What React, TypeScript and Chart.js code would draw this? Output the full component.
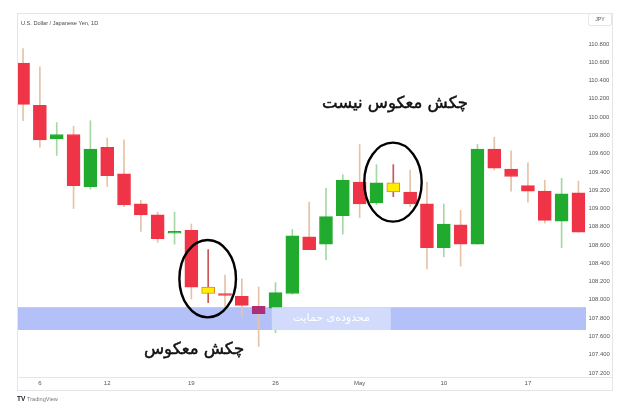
import React, { useEffect, useRef } from "react";
import { Chart, registerables } from "chart.js";

Chart.register(...registerables);

// ---- data ----
const OPEN = [110.59, 110.13, 109.76, 109.81, 109.24, 109.67, 109.38, 109.05, 108.93, 108.73, 108.76, 108.14, 108.07, 108.04, 107.93, 107.91, 108.07, 108.69, 108.61, 108.92, 109.29, 109.06, 109.28, 109.18, 109.05, 108.57, 108.82, 108.61, 109.65, 109.43, 109.25, 109.19, 108.86, 109.17];
const HIGH = [110.75, 110.55, 109.94, 109.9, 109.96, 109.77, 109.75, 109.09, 108.96, 108.96, 108.83, 108.55, 108.27, 108.23, 108.14, 108.19, 108.77, 109.07, 109.22, 109.37, 109.7, 109.48, 109.48, 109.42, 109.29, 109.05, 108.98, 109.7, 109.78, 109.63, 109.5, 109.31, 109.33, 109.3];
const LOW = [109.96, 109.67, 109.58, 109.0, 109.21, 109.24, 109.02, 108.75, 108.63, 108.61, 108.01, 107.97, 107.93, 107.81, 107.49, 107.64, 108.06, 108.55, 108.44, 108.72, 108.9, 109.04, 109.13, 109.02, 108.34, 108.47, 108.37, 108.61, 109.42, 109.19, 109.07, 108.84, 108.57, 108.74];
const CLOSE = [110.14, 109.75, 109.81, 109.25, 109.65, 109.36, 109.04, 108.93, 108.67, 108.75, 108.14, 108.07, 108.05, 107.94, 107.85, 108.08, 108.7, 108.55, 108.91, 109.31, 109.05, 109.28, 109.18, 109.05, 108.57, 108.83, 108.61, 109.65, 109.44, 109.35, 109.19, 108.87, 109.16, 108.74];

const X_TICK_INDEX = [1, 5, 10, 15, 20, 25, 30];
const X_TICK_LABELS = ["6", "12", "19", "26", "May", "10", "17"];
const Y_TICKS = [107.2, 107.4, 107.6, 107.8, 108.0, 108.2, 108.4, 108.6, 108.8, 109.0, 109.2, 109.4, 109.6, 109.8, 110.0, 110.2, 110.4, 110.6, 110.8];

const SUPPORT_ZONE = [107.67, 107.92];
const SUPPORT_LABEL_RANGE = [14.78, 21.85];
const SUPPORT_LABEL = "محدوده‌ی حمایت";
const TITLE = "U.S. Dollar / Japanese Yen, 1D";
const CURRENCY = "JPY";

const HAMMER_INDEX = [11, 22];
const HIGHLIGHT_PURPLE = [14];

const ELLIPSES = [
  { x: 10.97, y: 108.232 },
  { x: 21.98, y: 109.288 },
];
const NOTES = [
  { x: 22.1, y: 110.143, text: "چکش معکوس نیست" },
  { x: 10.16, y: 107.452, text: "چکش معکوس" },
];

// ---- styles ----
const RED = "#ef3447";
const GREEN = "#21ab2e";
const RED_WICK = "#e6c2a6";
const GREEN_WICK = "#a6d8a6";
const YELLOW = "#ffee00";
const YELLOW_BORDER = "#e08a1e";
const HAMMER_WICK = "#c8565a";
const PURPLE = "#ad2f78";
const FRAME = "#e3e5ea";

export default function App() {
  const ref = useRef<HTMLCanvasElement | null>(null);

  useEffect(() => {
    const canvas = ref.current;
    if (!canvas) return;
    const n = OPEN.length;
    const idx = Array.from({ length: n }, (_, i) => i);
    const up = idx.map((i) => CLOSE[i] >= OPEN[i]);

    const bodyColor = idx.map((i) =>
      HAMMER_INDEX.includes(i) ? YELLOW : HIGHLIGHT_PURPLE.includes(i) ? PURPLE : up[i] ? GREEN : RED
    );
    const bodyBorder = idx.map((i) => (HAMMER_INDEX.includes(i) ? YELLOW_BORDER : bodyColor[i]));
    const wickColor = idx.map((i) =>
      HAMMER_INDEX.includes(i) ? HAMMER_WICK : up[i] ? GREEN_WICK : RED_WICK
    );

    const overlay = {
      id: "overlay",
      beforeDatasetsDraw(chart: any) {
        const { ctx, chartArea, scales } = chart;
        const y = scales.y;
        ctx.save();
        const y1 = y.getPixelForValue(SUPPORT_ZONE[1]);
        const y0 = y.getPixelForValue(SUPPORT_ZONE[0]);
        ctx.fillStyle = "#b4c0f8";
        ctx.fillRect(chartArea.left, y1, chartArea.right - chartArea.left, y0 - y1);
        ctx.restore();
      },
      afterDatasetsDraw(chart: any) {
        const { ctx, scales } = chart;
        const x = scales.x;
        const y = scales.y;
        ctx.save();
        // support label box
        const y1 = y.getPixelForValue(SUPPORT_ZONE[1]);
        const y0 = y.getPixelForValue(SUPPORT_ZONE[0]);
        const lx0 = x.getPixelForValue(SUPPORT_LABEL_RANGE[0]);
        const lx1 = x.getPixelForValue(SUPPORT_LABEL_RANGE[1]);
        ctx.fillStyle = "rgba(214,222,252,0.88)";
        ctx.fillRect(lx0, y1, lx1 - lx0, y0 - y1);
        ctx.fillStyle = "#ffffff";
        ctx.font = '11px "DejaVu Sans"';
        ctx.textAlign = "center";
        ctx.textBaseline = "middle";
        ctx.direction = "rtl";
        ctx.fillText(SUPPORT_LABEL, (lx0 + lx1) / 2, (y0 + y1) / 2);

        // ellipses
        ctx.strokeStyle = "#000000";
        ctx.lineWidth = 2.4;
        const radii = [
          [28.3, 38.7],
          [28.7, 39.5],
        ];
        ELLIPSES.forEach((e, k) => {
          ctx.beginPath();
          ctx.ellipse(x.getPixelForValue(e.x), y.getPixelForValue(e.y), radii[k][0], radii[k][1], 0, 0, Math.PI * 2);
          ctx.stroke();
        });

        // notes
        ctx.fillStyle = "#111111";
        ctx.strokeStyle = "#111111";
        ctx.lineWidth = 0.5;
        ctx.lineJoin = "round";
        ctx.font = '16.5px "DejaVu Sans"';
        NOTES.forEach((t) => {
          const px = x.getPixelForValue(t.x);
          const py = y.getPixelForValue(t.y);
          ctx.fillText(t.text, px, py);
          ctx.strokeText(t.text, px, py);
        });
        ctx.restore();
      },
      afterDraw(chart: any) {
        const { ctx, chartArea } = chart;
        ctx.save();
        const L = chartArea.left + 0.5;
        const R = chartArea.right + 27 - 0.5;
        const T = chartArea.top + 0.5;
        const B = chartArea.bottom + 13 + 0.5;
        ctx.strokeStyle = FRAME;
        ctx.lineWidth = 1;
        ctx.strokeRect(L, T, R - L, B - T);
        ctx.beginPath();
        ctx.moveTo(L, chartArea.bottom + 0.5);
        ctx.lineTo(R, chartArea.bottom + 0.5);
        ctx.stroke();

        // title
        ctx.fillStyle = "#4a4a4a";
        ctx.font = '5.6px "Liberation Sans"';
        ctx.textAlign = "left";
        ctx.textBaseline = "middle";
        ctx.fillText(TITLE, chartArea.left + 4, chartArea.top + 10);

        // currency box
        ctx.fillStyle = "#ffffff";
        ctx.strokeStyle = FRAME;
        ctx.beginPath();
        ctx.roundRect(chartArea.right + 2.5, chartArea.top + 0.5, 23, 12, 2);
        ctx.fill();
        ctx.stroke();
        ctx.fillStyle = "#555555";
        ctx.textAlign = "center";
        ctx.font = '5.2px "Liberation Sans"';
        ctx.fillText(CURRENCY, chartArea.right + 14, chartArea.top + 6.8);

        // branding
        ctx.textAlign = "left";
        ctx.fillStyle = "#131722";
        ctx.font = 'bold 6.5px "Liberation Sans"';
        ctx.fillText("TV", chartArea.left, B + 8.5);
        ctx.fillStyle = "#777777";
        ctx.font = '5.6px "Liberation Sans"';
        ctx.fillText("TradingView", chartArea.left + 10, B + 8.5);
        ctx.restore();
      },
    };

    const chart = new Chart(canvas, {
      type: "bar",
      data: {
        datasets: [
          {
            data: idx.map((i) => ({ x: i, y: [OPEN[i], CLOSE[i]] })) as any,
            backgroundColor: bodyColor,
            borderColor: bodyBorder,
            borderWidth: 1,
            borderSkipped: false,
            barThickness: 13,
            grouped: false,
            order: 0,
          } as any,
          {
            data: idx.map((i) => ({ x: i, y: [LOW[i], HIGH[i]] })) as any,
            backgroundColor: wickColor,
            borderWidth: 0,
            barThickness: 1,
            grouped: false,
            order: 1,
          } as any,
        ],
      },
      options: {
        responsive: false,
        animation: false,
        events: [],
        layout: { padding: { left: 17, right: 11, top: 13, bottom: 21 } },
        plugins: { legend: { display: false }, tooltip: { enabled: false } },
        scales: {
          x: {
            type: "linear",
            min: -0.36,
            max: 33.45,
            offset: false,
            position: "bottom",
            grid: { display: false, drawTicks: false, offset: false },
            border: { display: false },
            afterBuildTicks: (s: any) => {
              s.ticks = X_TICK_INDEX.map((v) => ({ value: v }));
            },
            afterFit: (s: any) => {
              s.height = 13;
            },
            ticks: {
              autoSkip: false,
              maxRotation: 0,
              padding: 3,
              color: "#555555",
              font: { family: "Liberation Sans", size: 6 },
              callback: (v: any) => {
                const k = X_TICK_INDEX.indexOf(Number(v));
                return k >= 0 ? X_TICK_LABELS[k] : "";
              },
            },
          },
          y: {
            type: "linear",
            position: "right",
            min: 107.156,
            max: 111.139,
            grid: { display: false, drawTicks: false },
            border: { display: false },
            afterBuildTicks: (s: any) => {
              s.ticks = Y_TICKS.map((v) => ({ value: v }));
            },
            afterFit: (s: any) => {
              s.width = 27;
            },
            ticks: {
              padding: 2.5,
              color: "#555555",
              font: { family: "Liberation Sans", size: 5.9 },
              callback: (v: any) => Number(v).toFixed(3),
            },
          },
        },
      },
      plugins: [overlay],
    });

    return () => chart.destroy();
  }, []);

  return (
    <div style={{ position: "absolute", left: 0, top: 0, width: 624, height: 411, background: "#ffffff" }}>
      <canvas ref={ref} width={624} height={411} style={{ display: "block" }} />
    </div>
  );
}
